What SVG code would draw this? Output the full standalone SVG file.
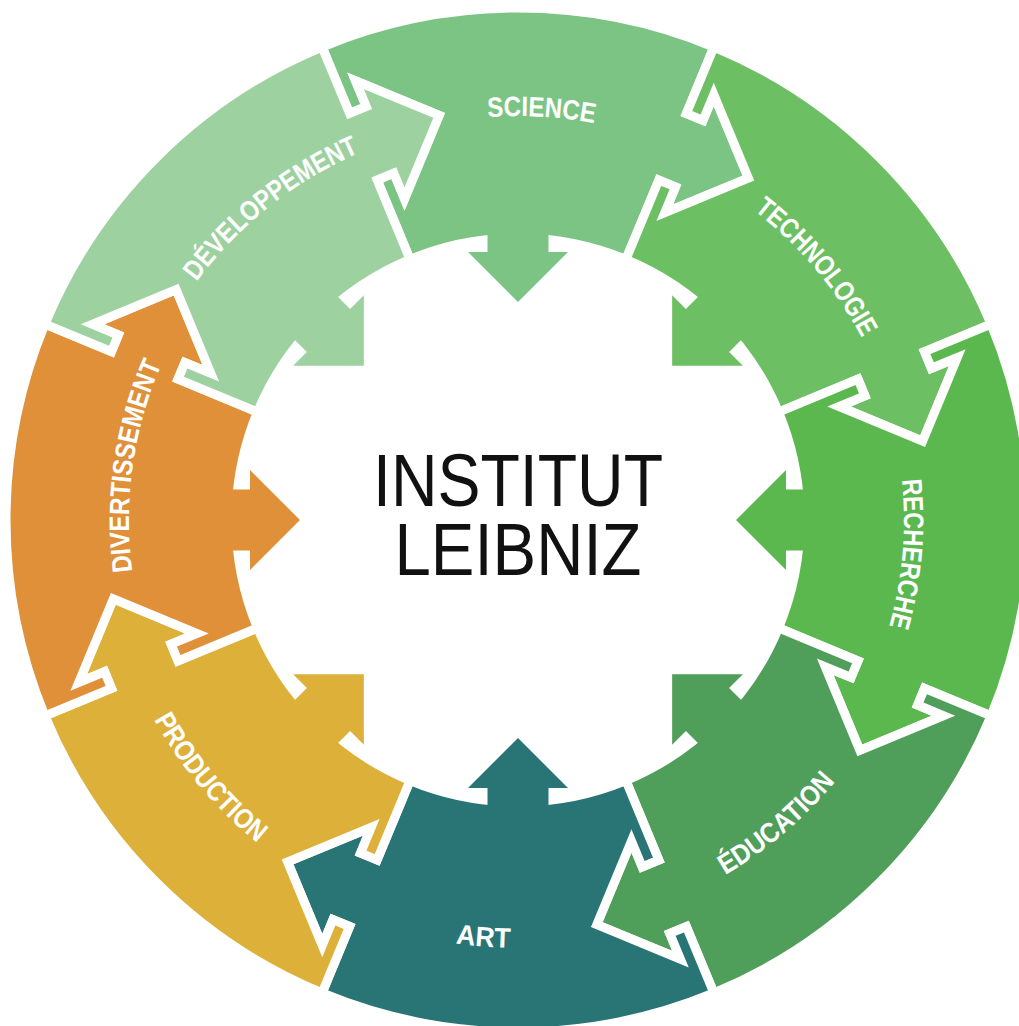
<svg xmlns="http://www.w3.org/2000/svg" xmlns:xlink="http://www.w3.org/1999/xlink" width="1019" height="1026" viewBox="0 0 1019 1026">
  <defs>
    <style>
      .seg { stroke: #ffffff; stroke-width: 9; stroke-linejoin: miter; stroke-miterlimit: 10; }
      .label { fill: #ffffff; font-family: "Liberation Sans", Arial, sans-serif; font-weight: bold; font-size: 28px; }
      .hub { fill: #111111; font-family: "Liberation Sans", Arial, sans-serif; font-size: 75px; }
    </style>
    <!-- one ring piece centred at the top: outer arc, arrow into the next piece, inner arc, notch for the previous piece's arrow -->
    <path id="piece" d="M -195.93 -473.03 A 512 512 0 0 1 195.93 -473.03
      L 168.38 -406.51 L 185.01 -399.62 L 195.72 -425.49 L 230.36 -341.87 L 146.74 -307.23 L 157.46 -333.10 L 140.83 -339.99 L 107.92 -260.53
      A 282 282 0 0 0 -107.92 -260.53
      L -140.83 -339.99 L -124.20 -346.88 L -113.48 -321.01 L -78.84 -404.63 L -162.46 -439.27 L -151.75 -413.40 L -168.38 -406.51 Z"/>
    <!-- arrow pointing from the ring into the hub -->
    <polygon id="inward" points="-30.5,-302 30.5,-302 30.5,-268 50,-268 0,-218 -50,-268 -30.5,-268"/>
    <!-- label baselines -->
    <path id="arc-science" d="M -268.7 -301.6 A 404 404 0 0 1 301.6 -268.7"/>
    <path id="arc-techno" d="M 31.9 -387.7 A 389 389 0 0 1 387.7 31.9"/>
    <path id="arc-recherche" d="M 295.7 -248.1 A 386 386 0 0 1 248.1 295.7"/>
    <path id="arc-education" d="M -33.0 409.7 A 411 411 0 0 0 409.7 33.0"/>
    <path id="arc-art" d="M -326.4 276.8 A 428 428 0 0 0 276.8 326.4"/>
    <path id="arc-production" d="M -413.4 -36.9 A 415 415 0 0 0 -36.9 413.4"/>
    <path id="arc-divert" d="M -310.7 234.1 A 389 389 0 0 1 -234.1 -310.7"/>
    <path id="arc-dev" d="M -397.4 -46.0 A 400 400 0 0 1 46.0 -397.4"/>
  </defs>

  <rect width="1019" height="1026" fill="#ffffff"/>

  <g transform="translate(518 520)">
    <g id="science">
      <use xlink:href="#piece" class="seg" fill="#7cc484"/>
      <use xlink:href="#inward" fill="#7cc484"/>
      <text class="label"><textPath xlink:href="#arc-science" startOffset="50%" text-anchor="middle" textLength="107" lengthAdjust="spacingAndGlyphs">SCIENCE</textPath></text>
    </g>
    <g id="technologie">
      <g transform="rotate(45)">
        <use xlink:href="#piece" class="seg" fill="#6dbf63"/>
        <use xlink:href="#inward" fill="#6dbf63"/>
      </g>
      <text class="label"><textPath xlink:href="#arc-techno" startOffset="50%" text-anchor="middle" textLength="168" lengthAdjust="spacingAndGlyphs">TECHNOLOGIE</textPath></text>
    </g>
    <g id="recherche">
      <g transform="rotate(90)">
        <use xlink:href="#piece" class="seg" fill="#5bb84f"/>
        <use xlink:href="#inward" fill="#5bb84f"/>
      </g>
      <text class="label"><textPath xlink:href="#arc-recherche" startOffset="50%" text-anchor="middle" textLength="148" lengthAdjust="spacingAndGlyphs">RECHERCHE</textPath></text>
    </g>
    <g id="education">
      <g transform="rotate(135)">
        <use xlink:href="#piece" class="seg" fill="#4f9e5a"/>
        <use xlink:href="#inward" fill="#4f9e5a"/>
      </g>
      <text class="label"><textPath xlink:href="#arc-education" startOffset="50%" text-anchor="middle" textLength="145" lengthAdjust="spacingAndGlyphs">ÉDUCATION</textPath></text>
    </g>
    <g id="art">
      <g transform="rotate(180)">
        <use xlink:href="#piece" class="seg" fill="#297576"/>
        <use xlink:href="#inward" fill="#297576"/>
      </g>
      <text class="label"><textPath xlink:href="#arc-art" startOffset="50%" text-anchor="middle" textLength="55" lengthAdjust="spacingAndGlyphs">ART</textPath></text>
    </g>
    <g id="production">
      <g transform="rotate(225)">
        <use xlink:href="#piece" class="seg" fill="#ddb03a"/>
        <use xlink:href="#inward" fill="#ddb03a"/>
      </g>
      <text class="label"><textPath xlink:href="#arc-production" startOffset="50%" text-anchor="middle" textLength="162" lengthAdjust="spacingAndGlyphs">PRODUCTION</textPath></text>
    </g>
    <g id="divertissement">
      <g transform="rotate(270)">
        <use xlink:href="#piece" class="seg" fill="#df9038"/>
        <use xlink:href="#inward" fill="#df9038"/>
      </g>
      <text class="label"><textPath xlink:href="#arc-divert" startOffset="50%" text-anchor="middle" textLength="212" lengthAdjust="spacingAndGlyphs">DIVERTISSEMENT</textPath></text>
    </g>
    <g id="developpement">
      <g transform="rotate(315)">
        <use xlink:href="#piece" class="seg" fill="#9dd1a0"/>
        <use xlink:href="#inward" fill="#9dd1a0"/>
      </g>
      <text class="label"><textPath xlink:href="#arc-dev" startOffset="50%" text-anchor="middle" textLength="210" lengthAdjust="spacingAndGlyphs">DÉVELOPPEMENT</textPath></text>
    </g>

    <g id="centre">
      <text class="hub" text-anchor="middle"><tspan x="0" y="-14" textLength="290" lengthAdjust="spacingAndGlyphs">INSTITUT</tspan><tspan x="0" y="55" textLength="247" lengthAdjust="spacingAndGlyphs">LEIBNIZ</tspan></text>
    </g>
  </g>
</svg>
